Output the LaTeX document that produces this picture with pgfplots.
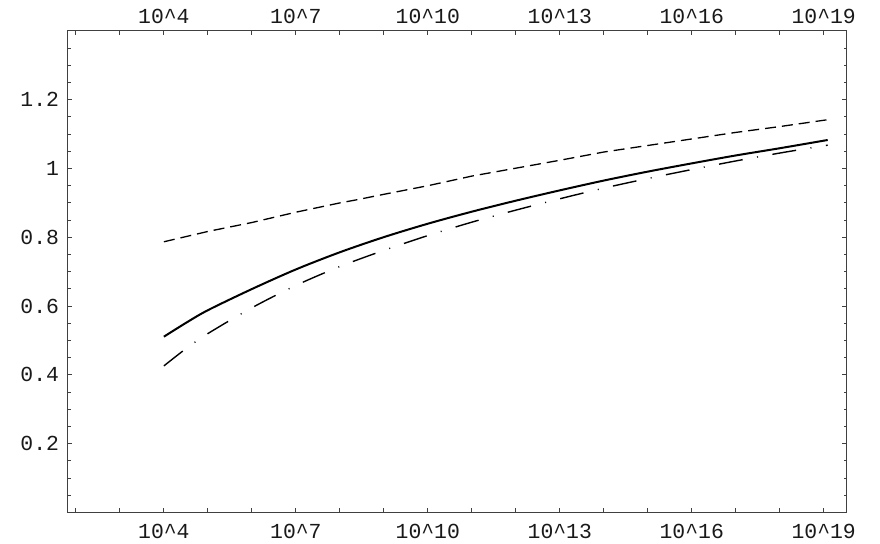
\documentclass[border=0pt]{standalone}
\usepackage{fontspec}
\setmainfont{Liberation Mono}
\usepackage{pgfplots}
\pgfplotsset{compat=1.18}

% x is the decimal exponent; labels are written as 10^n
\pgfplotsset{
  frameaxis/.style={
    scale only axis, width=389.3pt, height=240.7pt,
    xmin=1.82, xmax=19.52, ymin=0, ymax=1.4,
    axis line style={black!75, line width=0.5pt},
    every tick/.style={black!75, line width=0.5pt},
    major tick length=2.2pt, minor tick length=1.4pt,
    tick align=inside,
    xtick={2,...,19},
    xticklabels={,,10\textasciicircum4,,,10\textasciicircum7,,,10\textasciicircum10,,,10\textasciicircum13,,,10\textasciicircum16,,,10\textasciicircum19},
    ytick={0.2,0.4,0.6,0.8,1,1.2},
    yticklabels={0.2,0.4,0.6,0.8,1,1.2},
    minor ytick={0.05,0.1,0.15,0.25,0.3,0.35,0.45,0.5,0.55,0.65,0.7,0.75,0.85,0.9,0.95,1.05,1.1,1.15,1.25,1.3,1.35},
    tick label style={font=\fontsize{10.7}{12}\selectfont, inner sep=0pt, text=black!90},
  },
}

\begin{document}
\begin{tikzpicture}
\path[use as bounding box] (-34pt,-15.8pt) rectangle (406pt,256.2pt);

\begin{axis}[
  frameaxis,
  xtick pos=both, xticklabel pos=lower,
  ytick pos=both, yticklabel pos=left,
  xticklabel style={yshift=-5.6pt},
  yticklabel style={xshift=-4.3pt},
]

% dashed curve
\addplot[black, line width=0.65pt, dash pattern=on 5.5pt off 3pt]
  coordinates {
    (4,0.787) (5,0.817) (6,0.843) (7,0.873) (8,0.900) (8.38,0.909)
    (9,0.925) (10,0.950) (11,0.978) (12,1.001) (13,1.024) (14,1.048)
    (15,1.067) (16,1.086) (17,1.105) (18,1.122) (19.09,1.142)};

% solid curve
\addplot[black, line width=1pt, smooth]
  coordinates {
    (4,0.511) (4.5,0.551) (5,0.588) (6,0.6495) (7,0.7065) (8,0.7565)
    (9,0.8005) (10,0.8395) (11,0.8745) (12,0.9065) (13,0.9365)
    (14,0.965) (15,0.991) (16,1.015) (17,1.038) (18,1.059) (19.09,1.083)};

% dash-dot curve
\addplot[black, line width=0.7pt, smooth, dash pattern=on 12pt off 7.3pt on 0.5pt off 7.3pt]
  coordinates {
    (4,0.426) (4.5,0.476) (5,0.520) (6,0.595) (7,0.660) (8,0.715)
    (9,0.762) (10,0.805) (11,0.844) (12,0.879) (13,0.912) (14,0.943)
    (15,0.971) (16,0.997) (17,1.022) (18,1.045) (19.09,1.068)};

\end{axis}

% second pass only for the tick labels along the top
\begin{axis}[
  frameaxis,
  hide y axis,
  xtick pos=both, xticklabel pos=upper,
  xticklabel style={yshift=3.6pt},
]
\end{axis}

\end{tikzpicture}
\end{document}
